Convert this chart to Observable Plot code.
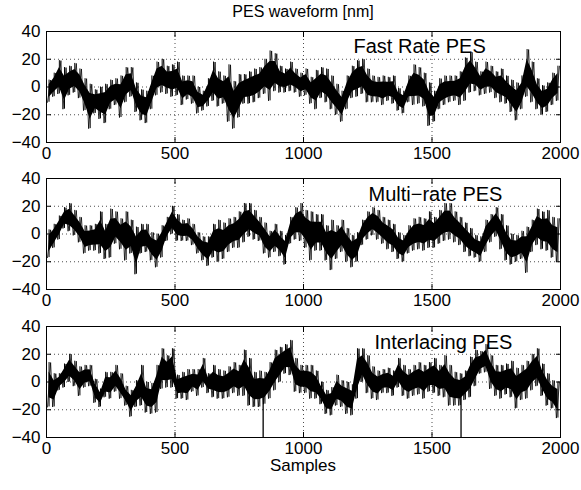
<!DOCTYPE html>
<html><head><meta charset="utf-8">
<script src="https://cdn.jsdelivr.net/npm/d3@7"></script>
<script src="https://cdn.jsdelivr.net/npm/@observablehq/plot@0.6"></script>
<style>
body{margin:0;background:#fff;}
#chart{position:relative;width:581px;height:490px;font-family:"Liberation Sans",Arial,Helvetica,sans-serif;color:#000;}
.t{position:absolute;left:46px;width:514px;text-align:center;line-height:18px;}
.p{position:absolute;left:0;}
</style></head><body>
<div id="chart">
  <div class="t" style="top:3px;font-size:16px">PES waveform [nm]</div>
  <div class="p" id="p1" style="top:21px"></div>
  <div class="p" id="p2" style="top:168px"></div>
  <div class="p" id="p3" style="top:316px"></div>
  <div class="t" style="top:457px;font-size:17px">Samples</div>
</div>
<script>
// x ticks / y ticks
const xTicks = [0, 500, 1000, 1500, 2000];
const yTicks = [-40, -20, 0, 20, 40];
const xGrid = [500, 1000, 1500];
const yGrid = [-20, 0, 20];
const panelLabels = ["Fast Rate PES", "Multi\u2212rate PES", "Interlacing PES"];
// samples per envelope bin (each bin: low and high extreme)
const binSize = 20;

const fastLo = [-11,-7,-5,-16,-6,-4,-8,-17,-30,-19, -23,-26,-16,-13,-22,-11,-7,-18,-24,-26, -16,-6,-4,-5,-7,-6,-13,-9,-12,-19, -17,-14,-10,-14,-12,-25,-30,-22,-12,-12, -11,-8,-5,-10,-3,-4,-4,-3,-4,-7, -6,-12,-16,-8,-11,-16,-20,-25,-16,-8, -7,-5,-11,-11,-11,-13,-10,-12,-17,-19, -11,-13,-12,-14,-28,-25,-16,-13,-11,-10, -13,-10,-4,-3,-6,-5,-4,-8,-11,-12, -18,-24,-16,-7,-11,-16,-20,-18,-13,-10];
const fastHi = [5,10,19,14,15,17,13,6,2,-2, 0,2,5,6,8,14,14,3,-2,-3, 8,18,20,15,16,18,8,8,8,0, -3,6,18,11,8,16,4,9,9,11, 13,14,20,26,24,15,13,18,13,10, 13,7,12,14,13,8,2,-3,8,15, 19,20,13,8,7,8,7,8,-1,-3, 8,16,14,10,3,-3,6,8,8,8, 11,21,25,18,11,18,15,11,13,8, 5,3,8,27,18,6,1,3,10,15];

const multiLo = [-17,-10,-4,4,2,-1,-6,-14,-12,-12, -14,-18,-17,-7,-11,-19,-14,-29,-14,-13, -19,-24,-17,-5,0,-5,-5,-5,-8,-14, -19,-23,-17,-20,-18,-13,-10,-10,-6,-2, -4,-5,-14,-17,-13,-16,-22,-7,-4,-5, -10,-19,-12,-12,-19,-26,-18,-13,-20,-24, -20,-8,-4,-1,-4,-7,-11,-13,-18,-20, -14,-12,-11,-12,-10,-10,-7,-5,-4,-6, -8,-13,-16,-17,-20,-13,-6,-2,-11,-19, -22,-20,-18,-28,-13,-8,-11,-12,-17,-20];
const multiHi = [3,7,13,19,22,17,12,6,6,7, 16,7,18,16,11,16,10,5,7,7, 1,0,6,12,20,14,10,11,7,1, -2,-2,7,10,8,11,12,16,22,22, 17,12,8,2,7,2,-1,12,19,22, 17,16,14,14,6,10,6,10,4,-1, 1,10,16,19,17,12,10,7,1,-1, 6,11,12,11,16,12,17,22,22,16, 12,8,4,-1,-2,10,14,19,14,6, 0,-1,2,5,10,18,16,17,12,11];

const interLo = [-18,-18,-6,-4,0,-3,-10,-4,-3,-15, -18,-11,-12,-7,-12,-17,-25,-18,-17,-22, -23,-22,-5,-4,-4,-12,-12,-13,-7,-10, -4,-8,-11,-12,-12,-11,-8,-10,-10,-17, -18,-18,-16,-12,-6,0,6,5,-7,-8, -8,-12,-12,-16,-23,-24,-17,-18,-23,-24, -12,0,-8,-12,-13,-8,-8,-10,-4,-10, -12,-10,-9,-12,-7,-8,-10,-11,-17,-17, -17,-13,-11,-3,6,7,-5,-10,-12,-9, -11,-19,-13,-12,-6,-3,-10,-17,-19,-26];
const interHi = [14,6,6,13,20,15,11,12,12,2, -5,7,7,12,6,-3,-6,1,12,0, -1,12,24,19,24,5,7,9,9,9, 17,6,12,9,8,11,14,12,23,17, 7,8,7,14,23,25,27,30,17,12, 12,12,8,0,-6,-4,5,1,0,-2, 24,24,19,11,8,9,10,8,17,12, 9,12,14,12,14,17,12,19,12,7, 6,8,18,23,22,27,19,12,12,13, 15,10,12,15,20,24,13,6,1,0];
// single-sample glitches in the interlacing PES
const interSpikeX = [843, 1613];
const interSpikeV = [-40, -40];

function zig(lo, hi) {
  const pts = [];
  lo.forEach((l, k) => {
    pts.push({s: k * binSize + 4, v: l});
    pts.push({s: k * binSize + 16, v: hi[k]});
  });
  return pts;
}
function bins(lo, hi) {
  return lo.map((l, k) => {
    const mid = (l + hi[k]) / 2, half = (hi[k] - l) / 2;
    return {s: k * binSize + 10, lo: l, hi: hi[k], c1: mid - 0.58 * half, c2: mid + 0.58 * half};
  });
}

const fmt = d3.format("d");
function panel(lo, hi, label, dx, dy, spikes) {
  const b = bins(lo, hi);
  const marks = [
    Plot.gridX(xGrid, {stroke: "#000", strokeOpacity: 0.7, strokeDasharray: "1,3"}),
    Plot.gridY(yGrid, {stroke: "#000", strokeOpacity: 0.7, strokeDasharray: "1,3"}),
    Plot.areaY(b, {x: "s", y1: "c1", y2: "c2", fill: "#000", curve: "linear"}),
    Plot.ruleX(b, {x: "s", y1: "lo", y2: "hi", stroke: "#000", strokeWidth: 1}),
    Plot.line(zig(lo, hi), {x: "s", y: "v", stroke: "#000", strokeWidth: 0.8})
  ];
  if (spikes) marks.push(Plot.ruleX(spikes, {x: "s", y1: "v", y2: 0, stroke: "#000", strokeWidth: 1.3}));
  marks.push(
    Plot.frame({stroke: "#000", strokeWidth: 1}),
    Plot.axisX(xTicks, {anchor: "bottom", tickSize: -5, tickPadding: 9, tickFormat: fmt, label: null}),
    Plot.axisX(xTicks, {anchor: "top", tickSize: -5, tickFormat: () => "", label: null}),
    Plot.axisY(yTicks, {anchor: "left", tickSize: -5, tickPadding: 11, tickFormat: fmt, label: null}),
    Plot.axisY(yTicks, {anchor: "right", tickSize: -5, tickFormat: () => "", label: null}),
    Plot.text([label], {frameAnchor: "top-left", text: d => d, dx, dy, textAnchor: "start", lineAnchor: "middle", fontSize: 20, fill: "#000"})
  );
  return Plot.plot({
    width: 581, height: 143,
    marginLeft: 46, marginRight: 21, marginTop: 10, marginBottom: 22,
    style: {fontFamily: '"Liberation Sans", Arial, Helvetica, sans-serif', fontSize: "17px", color: "#000", background: "#fff", overflow: "visible"},
    x: {domain: [0, 2000], label: null},
    y: {domain: [-40, 40], label: null},
    marks
  });
}

const spikes = interSpikeX.map((s, i) => ({s, v: interSpikeV[i]}));
document.getElementById("p1").append(panel(fastLo, fastHi, panelLabels[0], 307, 15));
document.getElementById("p2").append(panel(multiLo, multiHi, panelLabels[1], 322, 16));
document.getElementById("p3").append(panel(interLo, interHi, panelLabels[2], 328, 16, spikes));
</script>
</body></html>
